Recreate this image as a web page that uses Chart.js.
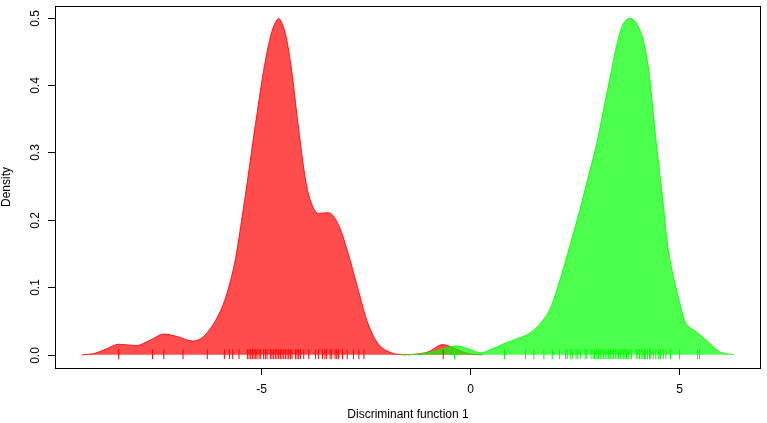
<!DOCTYPE html>
<html>
<head>
<meta charset="utf-8">
<script src="https://cdn.jsdelivr.net/npm/chart.js@4/dist/chart.umd.min.js"></script>
<style>
  body { margin: 0; background: #fff; }
</style>
</head>
<body>
<canvas id="chartOne" width="767" height="423"></canvas>
<script>
// density curves: [x, density]
var redDensity = [
  [-9.29, 0], [-9.0, 0.002], [-8.7, 0.009], [-8.41, 0.0157], [-7.99, 0.0138], [-7.65, 0.022],
  [-7.33, 0.0308], [-7.0, 0.027], [-6.64, 0.0205], [-6.45, 0.024], [-6.32, 0.031], [-6.09, 0.051],
  [-5.85, 0.085], [-5.61, 0.144], [-5.45, 0.207], [-5.33, 0.257], [-5.20, 0.315], [-5.07, 0.370],
  [-4.94, 0.422], [-4.78, 0.471], [-4.68, 0.490], [-4.58, 0.4985], [-4.49, 0.490], [-4.40, 0.471],
  [-4.27, 0.422], [-4.12, 0.344], [-3.93, 0.257], [-3.78, 0.222], [-3.63, 0.2097], [-3.39, 0.2107],
  [-3.15, 0.193], [-2.91, 0.149], [-2.67, 0.095], [-2.44, 0.046], [-2.20, 0.0167], [-1.88, 0.003],
  [-1.56, 0.0003], [-1.3, 0.001], [-1.0, 0.0044], [-0.65, 0.0152], [-0.35, 0.009], [-0.05, 0.002],
  [0.3, 0]
];
var greenDensity = [
  [-1.65, 0], [-1.2, 0.001], [-0.8, 0.006], [-0.33, 0.0132], [0.0, 0.008], [0.26, 0.003],
  [0.5, 0.008], [0.82, 0.0167], [1.13, 0.024], [1.40, 0.031], [1.69, 0.047], [1.93, 0.070],
  [2.17, 0.114], [2.42, 0.168], [2.64, 0.217], [2.84, 0.266], [3.04, 0.315], [3.20, 0.364],
  [3.36, 0.413], [3.52, 0.461], [3.65, 0.488], [3.83, 0.499], [4.00, 0.490], [4.17, 0.461],
  [4.30, 0.413], [4.38, 0.364], [4.46, 0.315], [4.55, 0.266], [4.64, 0.217], [4.72, 0.168],
  [4.84, 0.125], [4.99, 0.085], [5.14, 0.051], [5.42, 0.034], [5.66, 0.0216], [5.98, 0.0044],
  [6.32, 0]
];
// rug positions
var redRug = [-8.41, -7.60, -7.33, -6.87, -6.29, -5.88, -5.76, -5.68, -5.53,
  -5.33, -5.29, -5.25, -5.21, -5.17, -5.13, -5.10, -5.05, -5.01, -4.94, -4.90, -4.86,
  -4.78, -4.74, -4.70, -4.66, -4.62, -4.58, -4.54, -4.50, -4.46, -4.42, -4.38, -4.34, -4.30, -4.26,
  -4.18, -4.14, -4.10, -4.06, -3.98, -3.86, -3.70, -3.63, -3.53, -3.47, -3.43, -3.35, -3.31,
  -3.23, -3.19, -3.15, -3.05, -2.94, -2.79, -2.66, -2.54, -0.64];
var greenRug = [-0.37, 0.83, 1.33, 1.53, 1.77, 1.97, 2.14, 2.29, 2.33, 2.40, 2.45, 2.54, 2.58, 2.64,
  2.76, 2.80, 2.90, 2.95, 2.98, 3.04, 3.08, 3.12, 3.16, 3.20, 3.24, 3.28, 3.32, 3.36, 3.40, 3.44,
  3.48, 3.52, 3.56, 3.60, 3.64, 3.68, 3.71, 3.75, 3.79, 3.83, 3.87, 3.98, 4.02, 4.06, 4.10, 4.14,
  4.18, 4.21, 4.25, 4.30, 4.33, 4.39, 4.45, 4.51, 4.56, 4.63, 4.69, 4.80, 5.02, 5.45, 5.50];
var xTicks = [-5, 0, 5];
var yTicks = [0, 0.1, 0.2, 0.3, 0.4, 0.5];
var yTickLabels = ['0.0', '0.1', '0.2', '0.3', '0.4', '0.5'];
var xTitle = 'Discriminant function 1';
var yTitle = 'Density';

var FONT = '12px "Liberation Sans", Arial, sans-serif';

const toPoints = (arr) => arr.map((p) => ({ x: p[0], y: p[1] }));
const toRug = (arr) => arr.map((v) => ({ x: v, y: 0.001 }));

// box, ticks and labels drawn R-style
const rAxes = {
  id: 'rAxes',
  afterDraw(chart) {
    const ctx = chart.ctx;
    const a = chart.chartArea;
    const xs = chart.scales.x, ys = chart.scales.y;
    ctx.save();
    ctx.strokeStyle = '#000';
    ctx.lineWidth = 1;
    ctx.strokeRect(Math.round(a.left) + 0.5, Math.round(a.top) + 0.5,
      Math.round(a.right - a.left) - 1, Math.round(a.bottom - a.top));
    ctx.fillStyle = '#000';
    ctx.font = FONT;
    ctx.textAlign = 'center';
    ctx.textBaseline = 'middle';
    xTicks.forEach((t) => {
      const px = Math.round(xs.getPixelForValue(t)) + 0.5;
      ctx.beginPath();
      ctx.moveTo(px, a.bottom);
      ctx.lineTo(px, a.bottom + 7);
      ctx.stroke();
      ctx.fillText(String(t), px, a.bottom + 22);
    });
    yTicks.forEach((t, i) => {
      const py = Math.round(ys.getPixelForValue(t)) + 0.5;
      ctx.beginPath();
      ctx.moveTo(a.left, py);
      ctx.lineTo(a.left - 7, py);
      ctx.stroke();
      ctx.save();
      ctx.translate(a.left - 19, py);
      ctx.rotate(-Math.PI / 2);
      ctx.fillText(yTickLabels[i], 0, 0);
      ctx.restore();
    });
    ctx.fillText(xTitle, (a.left + a.right) / 2, 415);
    ctx.save();
    ctx.translate(7, (a.top + a.bottom) / 2);
    ctx.rotate(-Math.PI / 2);
    ctx.fillText(yTitle, 0, 0);
    ctx.restore();
    ctx.restore();
  }
};

var chartOne = document.getElementById('chartOne');
var myChart = new Chart(chartOne, {
  type: 'line',
  data: {
    datasets: [
      {
        data: toPoints(redDensity),
        order: 4,
        borderColor: 'rgba(255, 0, 0, 0.85)',
        backgroundColor: 'rgba(255, 0, 0, 0.7)',
        borderWidth: 1,
        fill: 'origin',
        pointRadius: 0,
        cubicInterpolationMode: 'monotone'
      },
      {
        data: toPoints(greenDensity),
        order: 3,
        borderColor: 'rgba(0, 255, 0, 0.85)',
        backgroundColor: 'rgba(0, 255, 0, 0.7)',
        borderWidth: 1,
        fill: 'origin',
        pointRadius: 0,
        cubicInterpolationMode: 'monotone'
      },
      {
        type: 'scatter',
        data: toRug(redRug),
        order: 2,
        showLine: false,
        pointStyle: 'line',
        rotation: 90,
        pointRadius: 5,
        borderColor: '#ff0000',
        borderWidth: 1
      },
      {
        type: 'scatter',
        data: toRug(greenRug),
        order: 1,
        showLine: false,
        pointStyle: 'line',
        rotation: 90,
        pointRadius: 5,
        borderColor: '#00ff00',
        borderWidth: 1
      }
    ]
  },
  options: {
    responsive: false,
    animation: false,
    devicePixelRatio: 1,
    layout: { padding: { left: 55, right: 2, top: 2, bottom: 55 } },
    plugins: { legend: { display: false }, tooltip: { enabled: false } },
    scales: {
      x: { type: 'linear', display: false, min: -9.936, max: 6.969 },
      y: { type: 'linear', display: false, min: -0.0195, max: 0.5172 }
    }
  },
  plugins: [rAxes]
});
</script>
</body>
</html>
